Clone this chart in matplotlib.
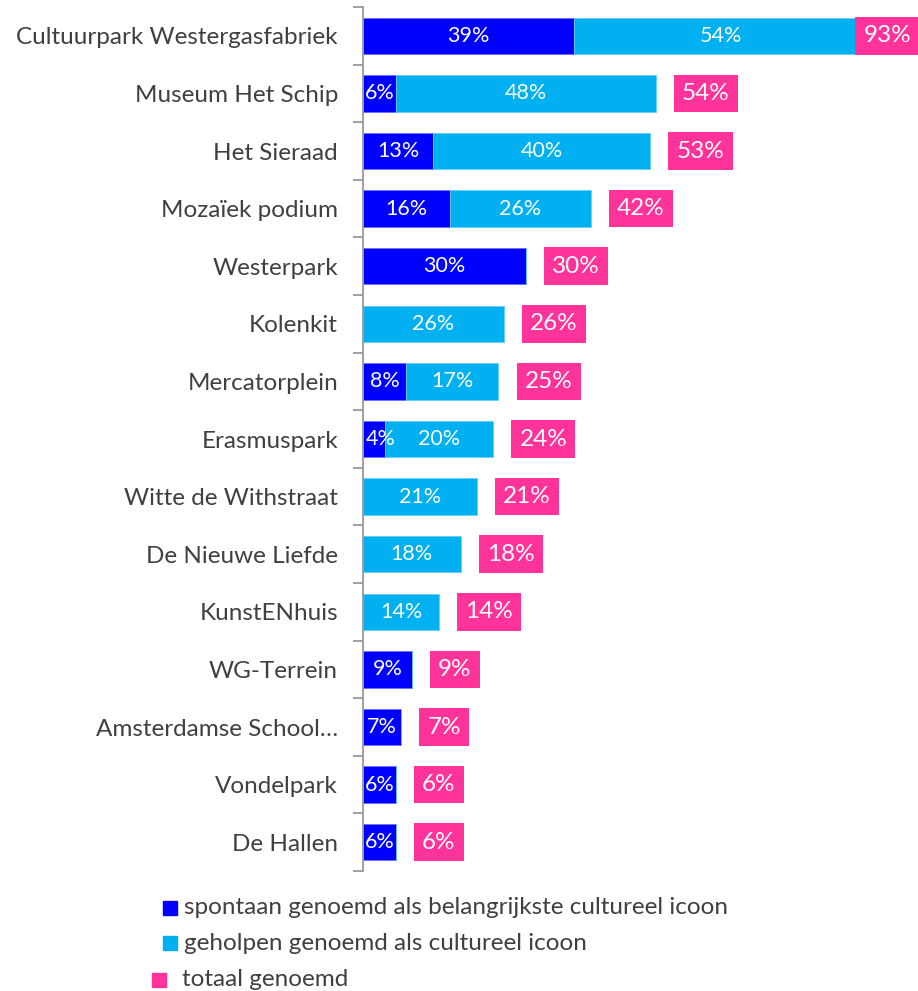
import numpy as np
import matplotlib.pyplot as plt
from matplotlib.patches import Rectangle

plt.rcParams['font.family'] = ['Lato', 'DejaVu Sans']

# Data
categories = ['Cultuurpark Westergasfabriek', 'Museum Het Schip', 'Het Sieraad',
              'Mozaïek podium', 'Westerpark', 'Kolenkit', 'Mercatorplein',
              'Erasmuspark', 'Witte de Withstraat', 'De Nieuwe Liefde',
              'KunstENhuis', 'WG-Terrein', 'Amsterdamse School…', 'Vondelpark',
              'De Hallen']
spontaan = [39, 6, 13, 16, 30, 0, 8, 4, 0, 0, 0, 9, 7, 6, 6]
geholpen = [54, 48, 40, 26, 0, 26, 17, 20, 21, 18, 14, 0, 0, 0, 0]
totaal = [93, 54, 53, 42, 30, 26, 25, 24, 21, 18, 14, 9, 7, 6, 6]

legend_labels = ['spontaan genoemd als belangrijkste cultureel icoon',
                 'geholpen genoemd als cultureel icoon',
                 'totaal genoemd']

c_spon = '#0000FF'
c_geh = '#00B0F0'
c_tot = '#FF3399'
c_text = '#404040'

fig = plt.figure(figsize=(9.18, 9.91), dpi=100)
ax = fig.add_axes([363/918, 1 - 871/991, 550/918, (871-7)/991])

y = np.arange(len(categories))
h = 0.63
ax.barh(y, spontaan, height=h, color=c_spon, edgecolor='#6f6fff', linewidth=0.6)
ax.barh(y, geholpen, left=spontaan, height=h, color=c_geh, edgecolor='#66d0f6', linewidth=0.6)

xmax = 101.5
for i in range(len(categories)):
    s, g, t = spontaan[i], geholpen[i], totaal[i]
    if s >= 5:
        ax.text(s / 2, i, f'{s}%', ha='center', va='center', color='white', fontsize=15.5)
    elif s > 0:
        # too narrow: label starts just inside the bar
        ax.annotate(f'{s}%', xy=(0, i), xytext=(2, 0), textcoords='offset points',
                    ha='left', va='center', color='white', fontsize=15.5)
    if g > 0:
        ax.text(s + g / 2, i, f'{g}%', ha='center', va='center', color='white', fontsize=15.5)
    box = dict(boxstyle='square,pad=0.34', fc=c_tot, ec='none')
    if t > 85:
        # no room on the right: stick the box to the edge of the figure
        ax.annotate(f'{t}%', xy=(1, i), xycoords=('figure fraction', 'data'),
                    xytext=(-5, 0), textcoords='offset points',
                    ha='right', va='center', color='white', fontsize=17.5, bbox=box)
    else:
        ax.annotate(f'{t}%', xy=(t, i), xytext=(19, 0), textcoords='offset points',
                    ha='left', va='center', color='white', fontsize=17.5, bbox=box)

ax.set_xlim(0, xmax)
ax.set_ylim(len(categories) - 0.5, -0.5)
ax.set_yticks(y)
ax.set_yticklabels(categories, fontsize=17.5, color=c_text)
ax.set_yticks(np.arange(len(categories) + 1) - 0.5, minor=True)
ax.tick_params(axis='y', which='major', length=0, pad=18)
ax.tick_params(axis='y', which='minor', length=7, color='#999999', width=1.3)
ax.set_xticks([])
for sp in ['top', 'right', 'bottom']:
    ax.spines[sp].set_visible(False)
ax.spines['left'].set_color('#999999')
ax.spines['left'].set_linewidth(1.3)

# Legend
rows = [(163, 908, c_spon, 184), (163, 943, c_geh, 184), (152, 980, c_tot, 182)]
for (px, py, col, tx), lab in zip(rows, legend_labels):
    fig.patches.append(Rectangle((px/918, 1 - (py + 7)/991), 14/918, 14/991,
                                 transform=fig.transFigure, color=col))
    fig.text(tx/918, 1 - py/991, lab, ha='left', va='center', fontsize=17.5, color=c_text)

fig.savefig('out.png', dpi=100)
